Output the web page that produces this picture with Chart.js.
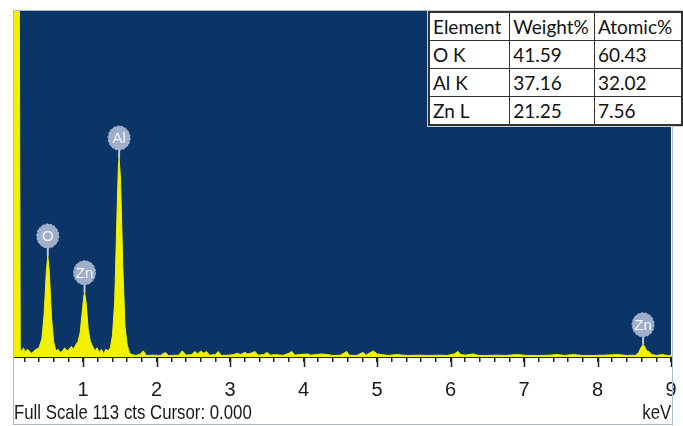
<!DOCTYPE html>
<html>
<head>
<meta charset="utf-8">
<script src="https://cdn.jsdelivr.net/npm/chart.js@4.4.1/dist/chart.umd.min.js"></script>
<style>
  html, body { margin: 0; padding: 0; background: #fff; }
  #wrap { position: relative; width: 683px; height: 426px; overflow: hidden; }
  canvas { position: absolute; left: 0; top: 0; }
  .narrow { font-family: "Liberation Sans", Arial, sans-serif; color: #1a1a1a; font-size: 21px; white-space: nowrap; }
  #footer { position: absolute; left: 14px; top: 400px; transform: scaleX(0.8); transform-origin: left center; }
  #unit { position: absolute; right: 12px; top: 400px; transform: scaleX(0.8); transform-origin: right center; }
  #comp { position: absolute; left: 428px; top: 11px; border-collapse: collapse; background: #fff;
          outline: 1px solid #c8d0dc; border: 2px solid #333; font-family: Lato, "Liberation Sans", sans-serif; font-size: 19px; color: #111; }
  #comp td { border: 1px solid #333; height: 27px; padding: 0 3px; line-height: 20px; white-space: nowrap; }
</style>
</head>
<body>
<div id="wrap">
  <canvas id="c" width="683" height="426"></canvas>
  <table id="comp"></table>
  <div id="footer" class="narrow">Full Scale 113 cts Cursor: 0.000</div>
  <div id="unit" class="narrow">keV</div>
</div>
<script>
// spectrum, keV vs counts
const energy = [
  0.06, 0.13, 0.145, 0.17, 0.19, 0.21, 0.24, 0.27, 0.30, 0.33, 0.36,
  0.40, 0.44, 0.47, 0.50, 0.52, 0.54, 0.57, 0.60, 0.63, 0.66, 0.69,
  0.72, 0.75, 0.78, 0.81, 0.84, 0.87, 0.90, 0.93, 0.96, 0.99, 1.01,
  1.02, 1.04, 1.07, 1.10, 1.13, 1.16, 1.19, 1.22, 1.25, 1.28, 1.31,
  1.34, 1.37, 1.40, 1.43, 1.46, 1.48, 1.49, 1.51, 1.54, 1.57, 1.60,
  1.63, 1.66, 1.72, 1.78, 1.82, 1.86, 1.95, 2.05, 2.12, 2.16, 2.30,
  2.35, 2.40, 2.48, 2.52, 2.56, 2.60, 2.64, 2.68, 2.72, 2.80, 2.84,
  2.88, 2.98, 3.05, 3.10, 3.14, 3.20, 3.24, 3.28, 3.34, 3.38, 3.46,
  3.50, 3.55, 3.62, 3.72, 3.80, 3.84, 3.88, 3.95, 4.05, 4.10, 4.18,
  4.25, 4.32, 4.40, 4.50, 4.59, 4.62, 4.72, 4.81, 4.85, 4.95, 5.00,
  5.06, 5.15, 5.27, 5.35, 5.45, 5.55, 5.70, 5.85, 5.95, 6.05, 6.10,
  6.14, 6.20, 6.31, 6.38, 6.50, 6.62, 6.75, 6.90, 7.05, 7.20, 7.35,
  7.45, 7.55, 7.67, 7.80, 7.95, 8.10, 8.27, 8.40, 8.52, 8.56, 8.59,
  8.62, 8.64, 8.67, 8.70, 8.74, 8.80, 8.88, 8.95, 9.00
];
const counts = [
  140, 140, 2.5, 2, 3, 1.5, 2.5, 2, 1, 2, 2.5,
  3, 6, 14, 28, 33, 28, 13, 5, 2, 2.5, 1.5,
  2, 3, 2, 2.5, 3.5, 2.5, 4, 5, 8, 15, 20,
  21, 18, 9, 5, 3.5, 2, 3, 1.5, 2.5, 1, 2.5,
  2, 3, 7, 18, 45, 62, 65, 58, 30, 10, 4,
  1.5, 0.8, 0.5, 1, 2, 0.5, 0.6, 0.5, 1.5, 0.5, 0.6,
  2, 0.6, 0.8, 1.8, 1, 2, 1.2, 1.8, 0.6, 0.8, 1.8,
  0.5, 0.6, 0.8, 1.2, 0.8, 1.5, 1, 1.2, 1.8, 0.6, 0.8,
  1.5, 0.6, 0.8, 0.5, 1.2, 1.8, 0.6, 0.8, 1, 0.6, 0.8,
  1, 0.8, 0.5, 0.6, 1.8, 0.6, 0.5, 1.5, 0.6, 2, 1,
  0.8, 0.5, 0.8, 0.6, 0.5, 0.6, 0.5, 0.6, 0.5, 1, 1.8,
  0.8, 0.6, 1, 0.5, 0.5, 0.6, 0.5, 0.8, 0.5, 0.5, 0.6,
  0.8, 0.5, 0.8, 0.5, 0.5, 0.6, 0.8, 0.5, 0.6, 1.5, 3,
  4, 3.5, 2, 1.8, 0.8, 0.5, 0.8, 0.5, 0.5
];

// peak markers
const peakNames = ["O", "Zn", "Al", "Zn"];
const peakEnergy = [0.52, 1.02, 1.49, 8.62];
const peakCounts = [33, 21, 65, 4];

const tickValues = [0.2, 0.4, 0.6, 0.8, 1, 1.2, 1.4, 1.6, 1.8, 2, 2.2, 2.4, 2.6, 2.8, 3,
  3.2, 3.4, 3.6, 3.8, 4, 4.2, 4.4, 4.6, 4.8, 5, 5.2, 5.4, 5.6, 5.8, 6, 6.2, 6.4, 6.6, 6.8,
  7, 7.2, 7.4, 7.6, 7.8, 8, 8.2, 8.4, 8.6, 8.8, 9];
const majorTicks = [1, 2, 3, 4, 5, 6, 7, 8, 9];

// quantification table
const tableHead = ["Element", "Weight%", "Atomic%"];
const elements = ["O K", "Al K", "Zn L"];
const weightPct = ["41.59", "37.16", "21.25"];
const atomicPct = ["60.43", "32.02", "7.56"];

const FULL_SCALE = 113;

const table = document.getElementById("comp");
const colW = [74, 78, 81];
const head = table.insertRow();
tableHead.forEach((h, i) => { const td = head.insertCell(); td.textContent = h; td.style.width = colW[i] + "px"; });
elements.forEach((el, i) => {
  const tr = table.insertRow();
  [el, weightPct[i], atomicPct[i]].forEach((v) => { tr.insertCell().textContent = v; });
});

const spectrumBg = {
  id: "spectrumBg",
  beforeDraw(chart) {
    const { ctx, chartArea: a } = chart;
    ctx.save();
    ctx.fillStyle = "#ffffff";
    ctx.fillRect(0, 0, chart.width, chart.height);
    ctx.fillStyle = "#0b3567";
    ctx.fillRect(a.left, a.top, a.right - a.left, a.bottom - a.top);
    ctx.restore();
  },
  afterDraw(chart) {
    const { ctx, chartArea: a } = chart;
    const xs = chart.scales.x, ys = chart.scales.y;
    ctx.save();
    // longer major ticks
    ctx.strokeStyle = "#222";
    ctx.lineWidth = 1.5;
    majorTicks.forEach((v) => {
      const x = Math.round(xs.getPixelForValue(v)) + 0.5;
      ctx.beginPath();
      ctx.moveTo(x, a.bottom);
      ctx.lineTo(x, a.bottom + 10);
      ctx.stroke();
    });
    // element markers
    peakNames.forEach((name, i) => {
      const x = xs.getPixelForValue(peakEnergy[i]);
      const tip = ys.getPixelForValue(peakCounts[i]);
      const cy = tip - 20;
      ctx.strokeStyle = "#b9c6de";
      ctx.lineWidth = 2;
      ctx.beginPath();
      ctx.moveTo(x, cy + 10);
      ctx.lineTo(x, tip);
      ctx.stroke();
      ctx.fillStyle = "#9eaecb";
      ctx.beginPath();
      ctx.ellipse(x, cy, 11, 12, 0, 0, Math.PI * 2);
      ctx.fill();
      ctx.strokeStyle = "#b3c0d9";
      ctx.lineWidth = 1;
      ctx.setLineDash([2, 2]);
      ctx.stroke();
      ctx.setLineDash([]);
      ctx.fillStyle = "#f4f6fb";
      ctx.font = '15px "Liberation Sans", sans-serif';
      ctx.textAlign = "center";
      ctx.textBaseline = "middle";
      ctx.fillText(name, x, cy + 1);
    });
    // outer frame
    ctx.strokeStyle = "#a9bcd4";
    ctx.lineWidth = 1;
    ctx.strokeRect(13.5, 10.5, 659, 414);
    ctx.restore();
  }
};

new Chart(document.getElementById("c"), {
  type: "line",
  data: {
    datasets: [{
      data: energy.map((e, i) => ({ x: e, y: counts[i] })),
      borderColor: "#f2f200",
      backgroundColor: "#f2f200",
      borderWidth: 1,
      fill: "origin",
      pointRadius: 0,
      tension: 0,
    }],
  },
  options: {
    responsive: false,
    animation: false,
    events: [],
    layout: { padding: { top: 11, left: 14, right: 12, bottom: 0 } },
    plugins: { legend: { display: false }, tooltip: { enabled: false } },
    scales: {
      x: {
        type: "linear",
        min: 0.06,
        max: 9,
        afterBuildTicks: (scale) => { scale.ticks = tickValues.map((v) => ({ value: v })); },
        afterFit: (scale) => { scale.height = 69; scale.paddingLeft = 0; scale.paddingRight = 0; },
        grid: { drawOnChartArea: false, drawTicks: true, tickLength: 5, color: "#222", lineWidth: 1.5 },
        border: { display: true, color: "#222", width: 2 },
        ticks: {
          autoSkip: false,
          maxRotation: 0,
          padding: 16,
          color: "#1a1a1a",
          font: { family: '"Liberation Sans", sans-serif', size: 20 },
          callback: (v) => (majorTicks.includes(v) ? String(v) : ""),
        },
      },
      y: { display: false, min: 0, max: FULL_SCALE },
    },
  },
  plugins: [spectrumBg],
});
</script>
</body>
</html>
